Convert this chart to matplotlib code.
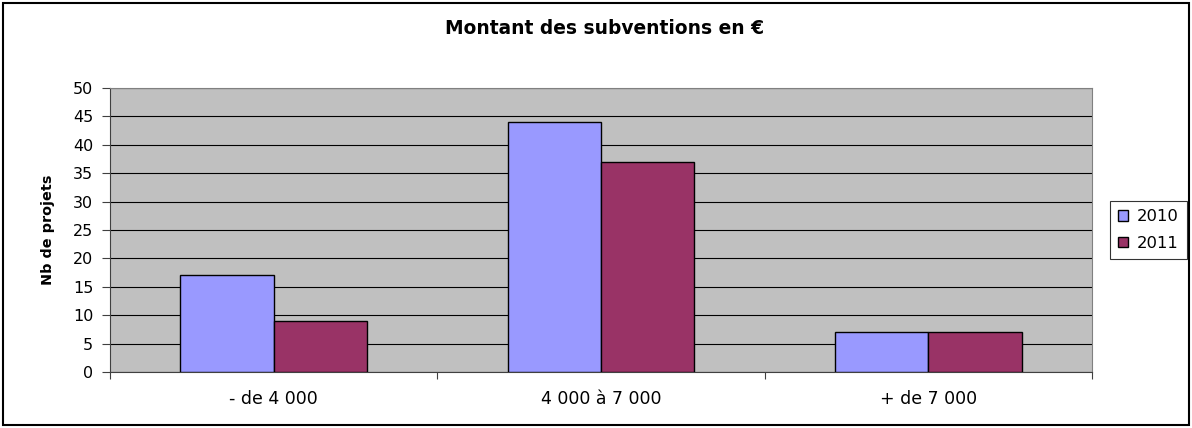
import numpy as np
import matplotlib.pyplot as plt
from matplotlib.patches import Rectangle

plt.rcParams['font.family'] = ['DejaVu Sans']

# data
categories = ["- de 4 000", "4 000 à 7 000", "+ de 7 000"]
v2010 = [17, 44, 7]
v2011 = [9, 37, 7]
series_names = ["2010", "2011"]
yticks = list(range(0, 55, 5))

fig = plt.figure(figsize=(11.92, 4.28), dpi=100)
ax = fig.add_axes([110 / 1192, 56 / 428, 982 / 1192, 284 / 428])

x = np.arange(len(categories))
w = 0.285
ax.bar(x - w / 2, v2010, w, color="#9999ff", edgecolor="black", linewidth=1.0,
       label=series_names[0], zorder=3)
ax.bar(x + w / 2, v2011, w, color="#993366", edgecolor="black", linewidth=1.0,
       label=series_names[1], zorder=3)

ax.set_facecolor("#c0c0c0")
ax.set_xlim(-0.5, len(categories) - 0.5)
ax.set_ylim(0, 50)
ax.set_yticks(yticks)
ax.yaxis.grid(True, color="black", linewidth=0.8, zorder=1)
ax.set_axisbelow(True)

# category ticks at group boundaries, labels in the middle
ax.set_xticks(np.arange(-0.5, len(categories), 1.0))
ax.set_xticklabels([])
ax.set_xticks(x, minor=True)
ax.set_xticklabels(categories, minor=True, fontsize=12.5)
ax.tick_params(axis="x", which="minor", length=0, pad=13)
ax.tick_params(axis="x", which="major", length=5, direction="out", color="#404040")
ax.tick_params(axis="y", length=6, direction="out", labelsize=11.5, color="#404040", pad=6)

for s in ["top", "right"]:
    ax.spines[s].set_color("#808080")
ax.spines["left"].set_color("#404040")
ax.spines["bottom"].set_color("#404040")

ax.set_ylabel("Nb de projets", fontsize=10.4, fontweight="bold", labelpad=13)
fig.text(605 / 1192, 1 - 29 / 428, "Montant des subventions en €", ha="center", va="center",
         fontsize=13.4, fontweight="bold")

leg = fig.legend(loc="center left", bbox_to_anchor=(1110 / 1192, 1 - 230 / 428),
                 fontsize=11.8, frameon=True, fancybox=False, edgecolor="black",
                 handlelength=0.6, handleheight=0.6, handletextpad=0.55,
                 borderpad=0.5, labelspacing=0.7, borderaxespad=0)
leg.get_frame().set_linewidth(0.8)

# outer frame
fig.patches.append(Rectangle((3 / 1192, 3 / 428), 1 - 6 / 1192, 1 - 6 / 428,
                             transform=fig.transFigure, fill=False,
                             edgecolor="black", linewidth=1.5))

fig.savefig("out.png", dpi=100)
